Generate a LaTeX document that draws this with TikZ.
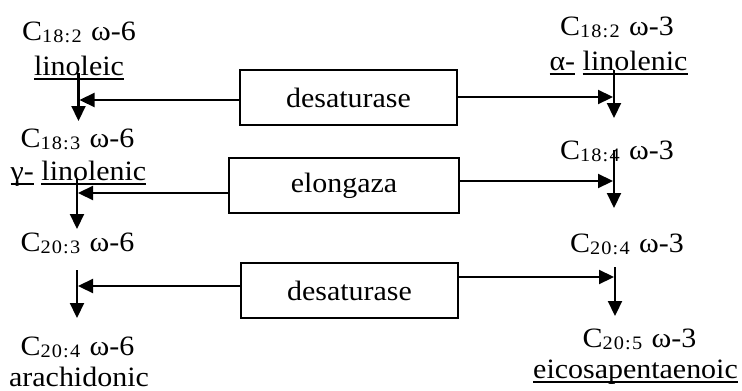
\documentclass[tikz,border=0pt]{standalone}
\usepackage{fontspec}
\setmainfont{Liberation Serif}[FakeStretch=1.07]
\usetikzlibrary{arrows.meta}
% lowered, smaller index after the carbon symbol
\newcommand{\cidx}[1]{\raisebox{-2.5pt}{\fontsize{19}{19}\selectfont\addfontfeature{LetterSpace=6}#1}\hspace{2pt}}
% thick underline drawn under a word
\newcommand{\ulword}[1]{\setbox0\hbox{#1}\rlap{\rule[-5pt]{\wd0}{1.8pt}}\box0\relax}
\tikzset{
  acid/.style={anchor=base, inner sep=0pt, font=\fontsize{28}{30}\selectfont},
  enzyme/.style={draw, line width=1.3pt, minimum height=55pt, inner sep=0pt,
    font=\fontsize{28}{30}\selectfont},
  flow/.style={line width=2.2pt, -{Triangle[length=15pt,width=14pt]}}
}
\begin{document}
\begin{tikzpicture}[x=1pt,y=-1pt]
\useasboundingbox (0,0) rectangle (742,391);

% omega-6 series
\node[acid] (c182a) at (79,40)  {C\cidx{18:2} ω-6};
\node[acid] (lin)   at (79,75)  {\ulword{linoleic}};
\node[acid] (c183)  at (77.5,147) {C\cidx{18:3} ω-6};
\node[acid] (glin)  at (78.5,180) {\ulword{γ-} \ulword{linolenic}};
\node[acid] (c203)  at (77.5,251) {C\cidx{20:3} ω-6};
\node[acid] (c204a) at (77.5,355) {C\cidx{20:4} ω-6};
\node[acid] (ara)   at (79,386) {arachidonic};

% omega-3 series
\node[acid] (c182b) at (617,35)  {C\cidx{18:2} ω-3};
\node[acid] (alin)  at (618.5,70) {\ulword{α-} \ulword{linolenic}};
\node[acid] (c184)  at (617,159) {C\cidx{18:4} ω-3};
\node[acid] (c204b) at (627,252) {C\cidx{20:4} ω-3};
\node[acid] (c205)  at (639.5,347) {C\cidx{20:5} ω-3};
\node[acid] (epa)   at (635.5,378) {\ulword{eicosapentaenoic}};

% enzymes
\node[enzyme, minimum width=217pt] (e1) at (348.5,97.5)  {desaturase};
\node[enzyme, minimum width=230pt] (e2) at (344,185.5)   {elongaza};
\node[enzyme, minimum width=217pt] (e3) at (349.5,290.5) {desaturase};

% ends of the conversion arrows
\coordinate (l1s) at (78.5,73);  \coordinate (l1e) at (78.5,121);
\coordinate (l2s) at (77,179);   \coordinate (l2e) at (77,229);
\coordinate (l3s) at (77,270);   \coordinate (l3e) at (77,318);
\coordinate (r1s) at (614,70);   \coordinate (r1e) at (614,118);
\coordinate (r2s) at (614,150);  \coordinate (r2e) at (614,208);
\coordinate (r3s) at (615,267);  \coordinate (r3e) at (615,316);
% points where the enzyme arrows meet the conversion arrows
\coordinate (h1l) at (79.5,100); \coordinate (h1r) at (613,97);
\coordinate (h2l) at (78,193);   \coordinate (h2r) at (613,181);
\coordinate (h3l) at (78,286);   \coordinate (h3r) at (614,277);

% conversion steps
\foreach \s in {l1,l2,l3,r1,r2,r3}
  \draw[flow] (\s s) -- (\s e);

% enzyme actions on both series
\draw[flow] (e1.west |- h1l) -- (h1l);
\draw[flow] (e1.east |- h1r) -- (h1r);
\draw[flow] (e2.west |- h2l) -- (h2l);
\draw[flow] (e2.east |- h2r) -- (h2r);
\draw[flow] (e3.west |- h3l) -- (h3l);
\draw[flow] (e3.east |- h3r) -- (h3r);
\end{tikzpicture}
\end{document}
